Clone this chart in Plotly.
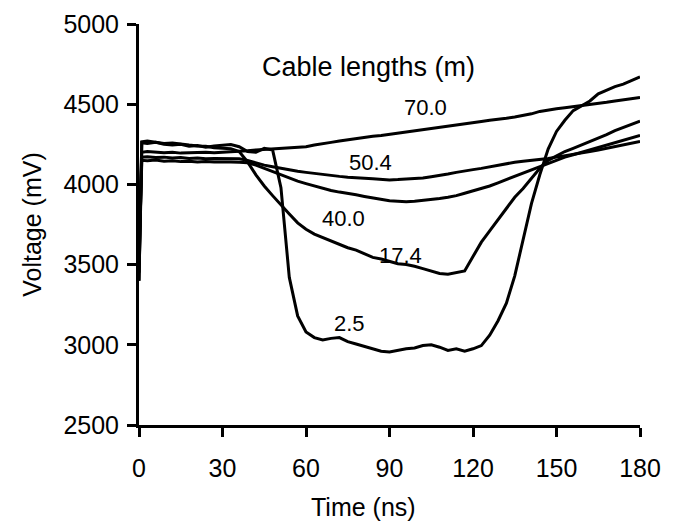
import plotly.graph_objects as go

time_ns = [0, 1, 3, 6, 9, 12, 15, 18, 21, 24, 27, 30, 33, 36, 39, 42, 45, 48, 51, 54, 57, 60,
           63, 66, 69, 72, 75, 78, 81, 84, 87, 90, 93, 96, 99, 102, 105, 108, 111, 114, 117, 120,
           123, 126, 129, 132, 135, 138, 141, 144, 147, 150, 153, 156, 159, 162, 165, 168, 171,
           174, 177, 180]

v_2_5 = [3400, 4260, 4255, 4262, 4250, 4245, 4250, 4238, 4242, 4232, 4240, 4245, 4248, 4235,
         4205, 4200, 4225, 4215, 3980, 3420, 3180, 3080, 3045, 3030, 3040, 3045, 3020, 3005,
         2990, 2975, 2960, 2955, 2965, 2975, 2980, 2995, 3000, 2985, 2965, 2975, 2960, 2975,
         2995, 3060, 3150, 3260, 3430, 3650, 3880, 4060, 4220, 4330, 4400, 4460, 4490, 4520,
         4565, 4590, 4610, 4625, 4650, 4670]

v_17_4 = [3400, 4265, 4270, 4262, 4255, 4258, 4250, 4245, 4240, 4238, 4228, 4225, 4222, 4205,
          4140, 4060, 3990, 3930, 3870, 3815, 3760, 3720, 3690, 3670, 3645, 3630, 3605, 3590,
          3570, 3545, 3535, 3520, 3505, 3500, 3490, 3475, 3460, 3445, 3440, 3450, 3460, 3550,
          3640, 3710, 3780, 3850, 3920, 3975, 4040, 4100, 4150, 4180, 4205, 4225, 4245, 4270,
          4290, 4310, 4335, 4355, 4375, 4395]

v_40_0 = [3450, 4150, 4148, 4152, 4145, 4148, 4142, 4145, 4140, 4143, 4140, 4142, 4140, 4138,
          4135, 4120, 4100, 4080, 4060, 4040, 4020, 4005, 3990, 3975, 3962, 3952, 3945, 3935,
          3925, 3915, 3905, 3898, 3895, 3892, 3895, 3900, 3905, 3912, 3920, 3930, 3945, 3960,
          3975, 3990, 4010, 4030, 4050, 4070, 4090, 4110, 4130, 4150, 4170, 4185, 4200, 4215,
          4230, 4245, 4260, 4275, 4290, 4306]

v_50_4 = [3500, 4170, 4172, 4168, 4170, 4165, 4168, 4162, 4165, 4160, 4162, 4160, 4158, 4160,
          4150, 4135, 4120, 4110, 4100, 4090, 4082, 4075, 4068, 4062, 4055, 4050, 4045, 4040,
          4038, 4035, 4030, 4028, 4030, 4032, 4035, 4040, 4048, 4055, 4065, 4075, 4085, 4092,
          4100, 4110, 4122, 4130, 4138, 4145, 4150, 4156, 4162, 4170, 4178, 4185, 4195, 4205,
          4215, 4225, 4235, 4245, 4255, 4268]

v_70_0 = [3600, 4200, 4205, 4200, 4198, 4200, 4195, 4198, 4200, 4200, 4198, 4200, 4202, 4205,
          4210, 4215, 4218, 4220, 4222, 4225, 4228, 4235, 4245, 4255, 4262, 4270, 4278, 4285,
          4292, 4300, 4305, 4312, 4320, 4325, 4332, 4340, 4348, 4355, 4362, 4370, 4378, 4385,
          4392, 4400, 4405, 4412, 4420, 4428, 4440, 4455, 4465, 4472, 4478, 4484, 4490, 4498,
          4505, 4512, 4520, 4528, 4535, 4542]

series_names = ["70.0", "50.4", "40.0", "17.4", "2.5"]
series_values = [v_70_0, v_50_4, v_40_0, v_17_4, v_2_5]

label_text = ["Cable lengths (m)", "70.0", "50.4", "40.0", "17.4", "2.5"]
label_x = [82.3, 102.8, 83, 73.3, 94, 75.8]
label_y = [4732, 4482, 4139, 3790, 3559, 3135]
label_size = [27, 22, 22, 22, 22, 22]

x_ticks = [0, 30, 60, 90, 120, 150, 180]
y_ticks = [2500, 3000, 3500, 4000, 4500, 5000]

FONT = "Liberation Sans, Arial, sans-serif"

fig = go.Figure()
for name, vals in zip(series_names, series_values):
    fig.add_trace(go.Scatter(x=time_ns, y=vals, mode="lines", name=name,
                             line=dict(color="black", width=3), showlegend=False))

for t, x, y, s in zip(label_text, label_x, label_y, label_size):
    fig.add_annotation(x=x, y=y, text=t, showarrow=False,
                       font=dict(family=FONT, size=s, color="black"))

# x-axis title placed as annotation (slightly left of plot centre, as in reference)
fig.add_annotation(x=80.8, xref="x", y=-0.205, yref="paper", yanchor="middle",
                   text="Time (ns)", showarrow=False,
                   font=dict(family=FONT, size=25, color="black"))

axis_common = dict(showgrid=False, zeroline=False, showline=True, linecolor="black",
                   linewidth=3, ticks="outside", ticklen=9, tickwidth=3, tickcolor="black",
                   automargin=False,
                   tickfont=dict(family=FONT, size=25, color="black"))

fig.update_xaxes(range=[0, 180], tickvals=x_ticks, ticktext=[str(v) for v in x_ticks],
                 ticklabelstandoff=10, **axis_common)
fig.update_yaxes(range=[2500, 5000], tickvals=y_ticks, ticktext=[str(v) for v in y_ticks],
                 ticklabelstandoff=3,
                 title=dict(text="Voltage (mV)", font=dict(family=FONT, size=25, color="black")),
                 **axis_common)

fig.update_layout(width=678, height=527, margin=dict(l=139, r=38, t=24, b=102),
                  plot_bgcolor="white", paper_bgcolor="white",
                  font=dict(family=FONT, color="black"))

fig.write_html("out.html", config={"displayModeBar": False},
               post_script="document.body.style.margin='0';document.body.style.padding='0';")
